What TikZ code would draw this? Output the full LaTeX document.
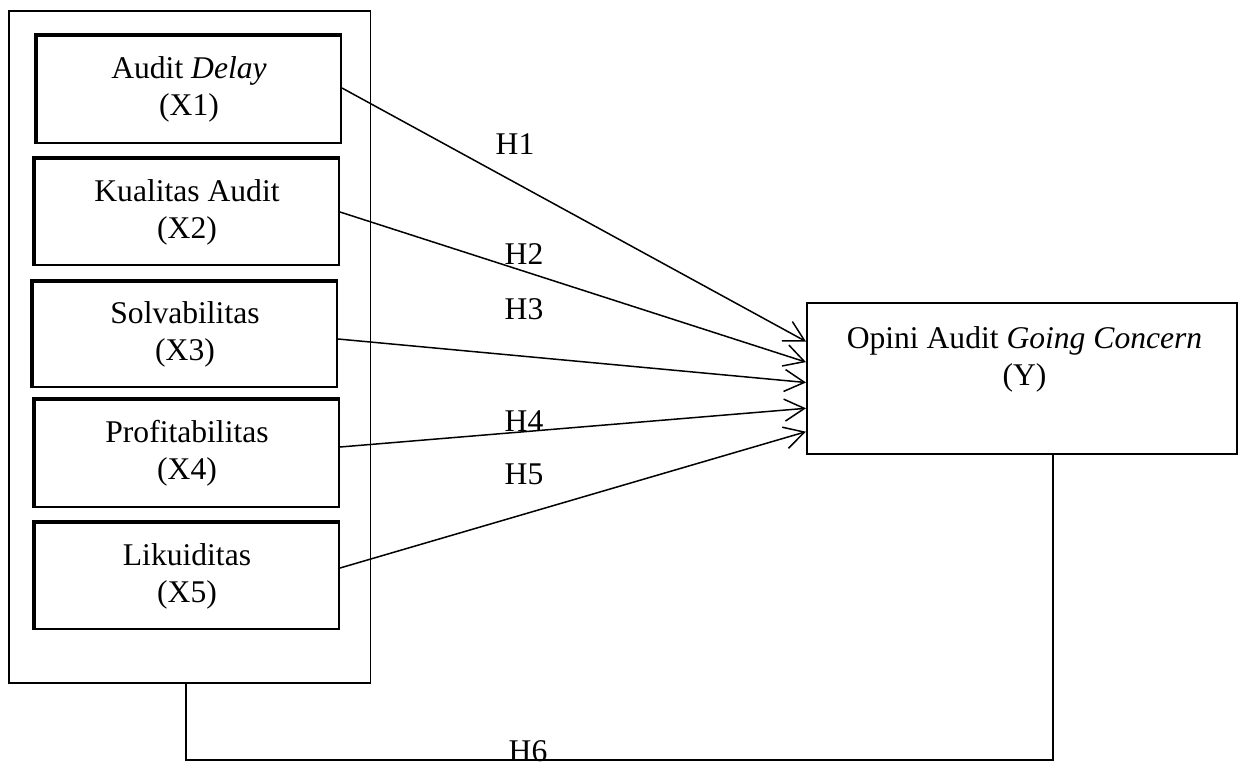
\documentclass[tikz,border=0pt]{standalone}
\usepackage{fontspec}
\setmainfont{Liberation Serif}
\usetikzlibrary{arrows.meta,calc}
\begin{document}
\begin{tikzpicture}[x=0.5pt,y=-0.5pt,
  font=\fontsize{15.8}{18.5}\selectfont,
  varbox/.style={draw, line width=1pt, minimum width=152pt, inner sep=0pt, align=center},
  grpbox/.style={draw, line width=0.8pt, minimum width=180.75pt, minimum height=336pt, inner sep=0pt},
  ybox/.style={draw, line width=1pt, minimum width=215pt, minimum height=75.5pt, inner sep=0pt},
  conn/.style={line width=0.75pt, -{Straight Barb[length=10pt,width=11pt,line width=0.75pt]}},
  plain/.style={line width=0.75pt},
  hlab/.style={anchor=base, inner sep=0pt}]
\useasboundingbox (0,0) rectangle (1238,762);
\fill[white] (0,0) rectangle (1238,762);

% group box
\node[grpbox] (grp) at (189.75,347) {};

% variable boxes
\node[varbox, minimum height=53.5pt] (x1) at (189,89.5) {Audit \textit{Delay}\\(X1)};
\node[varbox, minimum height=53pt] (x2) at (187,212) {Kualitas Audit\\(X2)};
\node[varbox, minimum height=52.5pt] (x3) at (185,334.5) {Solvabilitas\\(X3)};
\node[varbox, minimum height=53.5pt] (x4) at (187,453.5) {Profitabilitas\\(X4)};
\node[varbox, minimum height=53pt] (x5) at (187,576) {Likuiditas\\(X5)};

% thicker left and top edges
\foreach \b in {x1,x2,x3,x4,x5}{
  \draw[line width=1pt] ([xshift=-0.5pt]\b.south west) -- ([xshift=-0.5pt,yshift=0.5pt]\b.north west) -- ([yshift=0.5pt]\b.north east);
}

% dependent variable
\node[ybox] (Y) at (1022,378.5) {};
\node[align=center, inner sep=0pt] (ytext) at (1024.5,359) {Opini Audit \textit{Going Concern}\\(Y)};

% hypothesis arrows
\draw[conn] ([yshift=0.75pt]x1.east) -- ([yshift=18.5pt]Y.west);
\draw[conn] (x2.east) -- ([yshift=8.2pt]Y.west);
\draw[conn] ([yshift=-2.25pt]x3.east) -- ([yshift=-2pt]Y.west);
\draw[conn] ([yshift=3.25pt]x4.east) -- ([yshift=-14.9pt]Y.west);
\draw[conn] ([yshift=4pt]x5.east) -- ([yshift=-26.6pt]Y.west);

% labels
\node[hlab] (h1) at (515,154) {H1};
\node[hlab] (h2) at (524,264) {H2};
\node[hlab] (h3) at (524,319) {H3};
\node[hlab] (h4) at (524,431) {H4};
\node[hlab] (h5) at (524,484) {H5};

% H6 connector
\coordinate (h6L) at (186,760);
\coordinate (h6R) at (1053,760);
\draw[plain] (grp.south -| h6L) -- (h6L) -- (h6R) -- (Y.south -| h6R);
\node[hlab] (h6) at (528,761) {H6};
\end{tikzpicture}
\end{document}
